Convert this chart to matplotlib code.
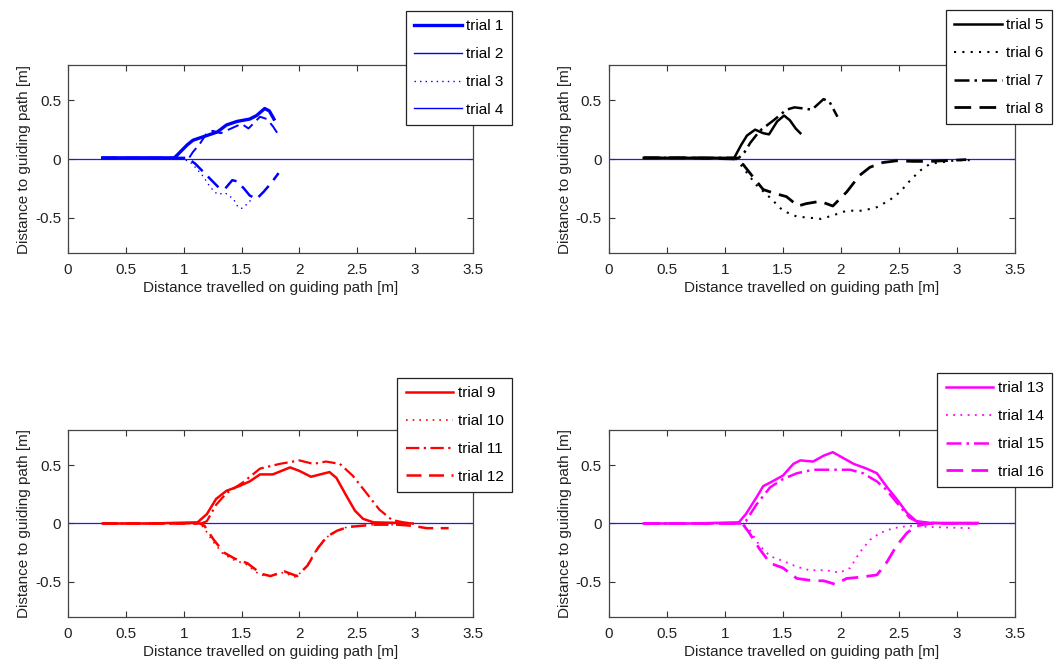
import numpy as np
import matplotlib
matplotlib.use("Agg")
import matplotlib.pyplot as plt

plt.rcParams['font.family'] = ['Liberation Sans', 'DejaVu Sans']
plt.rcParams['font.size'] = 11
plt.rcParams['axes.unicode_minus'] = False

# ---- data (x: travelled [m], y: lateral distance [m]) ----
# trials 1-4 (blue)
t1_x = [0.30, 0.60, 0.92, 0.97, 1.03, 1.08, 1.20, 1.29, 1.37, 1.46, 1.57, 1.63, 1.70, 1.74, 1.78]
t1_y = [0.01, 0.01, 0.01, 0.06, 0.12, 0.16, 0.20, 0.23, 0.29, 0.32, 0.34, 0.37, 0.43, 0.41, 0.34]
t2_x = [0.30, 0.70, 1.04, 1.08, 1.14, 1.20, 1.25, 1.32, 1.41, 1.50, 1.56, 1.60, 1.66, 1.72, 1.77, 1.81]
t2_y = [0.01, 0.01, 0.00, 0.06, 0.13, 0.22, 0.24, 0.22, 0.26, 0.30, 0.26, 0.30, 0.36, 0.34, 0.28, 0.22]
t3_x = [0.30, 0.70, 1.00, 1.06, 1.11, 1.17, 1.23, 1.29, 1.36, 1.43, 1.47, 1.50, 1.54, 1.60]
t3_y = [0.01, 0.01, 0.00, -0.03, -0.08, -0.15, -0.24, -0.30, -0.29, -0.34, -0.41, -0.42, -0.39, -0.33]
t4_x = [0.30, 0.70, 1.03, 1.10, 1.17, 1.24, 1.31, 1.36, 1.42, 1.46, 1.52, 1.57, 1.63, 1.69, 1.76, 1.82]
t4_y = [0.01, 0.01, 0.01, -0.04, -0.11, -0.18, -0.25, -0.25, -0.18, -0.19, -0.25, -0.31, -0.34, -0.28, -0.20, -0.12]

# trials 5-8 (black)
t5_x = [0.30, 0.70, 1.08, 1.14, 1.19, 1.26, 1.33, 1.38, 1.45, 1.51, 1.56, 1.61, 1.65]
t5_y = [0.01, 0.01, 0.01, 0.12, 0.20, 0.25, 0.22, 0.21, 0.32, 0.37, 0.33, 0.26, 0.22]
t6_x = [0.30, 0.70, 1.10, 1.16, 1.27, 1.39, 1.50, 1.62, 1.73, 1.83, 1.93, 2.05, 2.19, 2.31,
        2.42, 2.51, 2.59, 2.68, 2.77, 2.85, 3.00, 3.11]
t6_y = [0.01, 0.01, 0.00, -0.08, -0.22, -0.33, -0.44, -0.49, -0.50, -0.51, -0.48, -0.44, -0.44, -0.41,
        -0.35, -0.28, -0.19, -0.10, -0.04, -0.03, -0.01, -0.01]
t7_x = [0.30, 0.70, 1.12, 1.17, 1.22, 1.30, 1.42, 1.53, 1.60, 1.68, 1.75, 1.85, 1.90, 1.97]
t7_y = [0.01, 0.01, 0.01, 0.06, 0.14, 0.24, 0.33, 0.42, 0.44, 0.43, 0.42, 0.51, 0.49, 0.36]
t8_x = [0.30, 0.70, 1.10, 1.16, 1.24, 1.33, 1.42, 1.53, 1.63, 1.70, 1.82, 1.93, 2.05, 2.16,
        2.25, 2.36, 2.48, 2.62, 2.77, 2.88, 3.08]
t8_y = [0.01, 0.01, 0.00, -0.05, -0.15, -0.26, -0.29, -0.32, -0.40, -0.38, -0.36, -0.40, -0.28, -0.14,
        -0.07, -0.03, -0.015, -0.02, -0.02, -0.015, -0.005]

# trials 9-12 (red)
t9_x = [0.30, 0.70, 1.12, 1.20, 1.28, 1.37, 1.48, 1.57, 1.66, 1.77, 1.92, 2.00, 2.10, 2.18,
        2.26, 2.32, 2.41, 2.48, 2.55, 2.64, 2.87, 2.98]
t9_y = [0.00, 0.00, 0.01, 0.08, 0.21, 0.28, 0.32, 0.36, 0.42, 0.42, 0.48, 0.45, 0.40, 0.42,
        0.44, 0.39, 0.23, 0.11, 0.04, 0.01, 0.005, 0.00]
t10_x = [0.30, 0.70, 1.13, 1.17, 1.25, 1.34, 1.43, 1.54, 1.66, 1.74, 1.86, 1.97, 2.06, 2.15,
         2.23, 2.32, 2.41, 2.52, 2.64, 2.80, 2.95]
t10_y = [0.00, 0.00, 0.00, -0.03, -0.15, -0.26, -0.31, -0.35, -0.44, -0.45, -0.42, -0.46, -0.37, -0.22,
         -0.12, -0.07, -0.03, -0.02, -0.01, -0.01, -0.01]
t11_x = [0.30, 0.70, 1.15, 1.20, 1.28, 1.37, 1.51, 1.66, 1.83, 2.00, 2.12, 2.23, 2.35, 2.46,
         2.58, 2.69, 2.80, 2.90, 2.98]
t11_y = [0.00, 0.00, 0.00, 0.02, 0.16, 0.26, 0.35, 0.47, 0.51, 0.54, 0.51, 0.53, 0.51, 0.41,
         0.26, 0.12, 0.03, 0.01, 0.00]
t12_x = [0.30, 0.70, 1.14, 1.18, 1.26, 1.35, 1.44, 1.55, 1.67, 1.75, 1.87, 1.98, 2.07, 2.16,
         2.24, 2.33, 2.42, 2.53, 2.65, 2.85, 2.98, 3.10, 3.29]
t12_y = [0.00, 0.00, 0.00, -0.02, -0.14, -0.25, -0.30, -0.34, -0.43, -0.45, -0.41, -0.45, -0.36, -0.21,
         -0.11, -0.06, -0.03, -0.02, -0.01, -0.01, -0.02, -0.04, -0.04]

# trials 13-16 (magenta)
t13_x = [0.30, 0.70, 1.12, 1.18, 1.27, 1.33, 1.39, 1.50, 1.59, 1.65, 1.76, 1.85, 1.93, 2.02,
         2.11, 2.22, 2.31, 2.39, 2.48, 2.57, 2.65, 2.77, 3.18]
t13_y = [0.00, 0.00, 0.01, 0.08, 0.22, 0.32, 0.35, 0.41, 0.51, 0.54, 0.53, 0.58, 0.61, 0.56,
         0.51, 0.47, 0.43, 0.32, 0.21, 0.09, 0.02, 0.005, 0.005]
t14_x = [0.30, 0.70, 1.15, 1.21, 1.30, 1.39, 1.50, 1.62, 1.73, 1.87, 1.99, 2.08, 2.16, 2.25,
         2.34, 2.45, 2.59, 2.77, 3.11]
t14_y = [0.00, 0.00, 0.00, -0.05, -0.19, -0.28, -0.32, -0.37, -0.40, -0.40, -0.42, -0.38, -0.25, -0.14,
         -0.08, -0.04, -0.02, -0.03, -0.04]
t15_x = [0.30, 0.70, 1.14, 1.18, 1.27, 1.39, 1.50, 1.62, 1.76, 1.90, 2.08, 2.19, 2.31, 2.39,
         2.48, 2.59, 2.67, 2.90, 3.10]
t15_y = [0.00, 0.00, 0.00, 0.02, 0.16, 0.31, 0.38, 0.43, 0.46, 0.46, 0.46, 0.43, 0.36, 0.29,
         0.18, 0.05, 0.01, 0.00, 0.00]
t16_x = [0.30, 0.70, 1.15, 1.21, 1.30, 1.39, 1.50, 1.62, 1.76, 1.85, 1.95, 2.05, 2.16, 2.31,
         2.39, 2.48, 2.57, 2.65, 2.77, 3.18]
t16_y = [0.00, 0.00, 0.00, -0.08, -0.22, -0.34, -0.38, -0.47, -0.49, -0.49, -0.52, -0.47, -0.46, -0.44,
         -0.34, -0.19, -0.08, -0.02, 0.00, 0.00]

panels = [
    ("#0000ff", [("trial 1", t1_x, t1_y, "-", 2.4),
                 ("trial 2", t2_x, t2_y, (0, (6, 3)), 1.4),
                 ("trial 3", t3_x, t3_y, (0, (1, 3)), 1.0),
                 ("trial 4", t4_x, t4_y, (0, (6, 3)), 1.8)]),
    ("#000000", [("trial 5", t5_x, t5_y, "-", 1.8),
                 ("trial 6", t6_x, t6_y, (0, (1, 3)), 1.5),
                 ("trial 7", t7_x, t7_y, (0, (6, 2, 1, 2)), 1.8),
                 ("trial 8", t8_x, t8_y, (0, (6, 3)), 2.0)]),
    ("#ff0000", [("trial 9", t9_x, t9_y, "-", 1.8),
                 ("trial 10", t10_x, t10_y, (0, (1, 3)), 1.2),
                 ("trial 11", t11_x, t11_y, (0, (6, 2, 1, 2)), 1.6),
                 ("trial 12", t12_x, t12_y, (0, (6, 3)), 1.8)]),
    ("#ff00ff", [("trial 13", t13_x, t13_y, "-", 1.8),
                 ("trial 14", t14_x, t14_y, (0, (1, 3)), 1.3),
                 ("trial 15", t15_x, t15_y, (0, (6, 2, 1, 2)), 1.8),
                 ("trial 16", t16_x, t16_y, (0, (6, 3)), 2.0)]),
]

axes_rects = [[0.0642, 0.619, 0.3824, 0.283],
              [0.575, 0.619, 0.3834, 0.283],
              [0.0642, 0.0708, 0.3824, 0.2816],
              [0.575, 0.0708, 0.3834, 0.2816]]
legend_anchor = [(0.4835, 0.9834), (0.9934, 0.985), (0.4835, 0.4307), (0.9934, 0.4383)]

fig = plt.figure(figsize=(10.59, 6.64), dpi=100)

for k, (color, trials) in enumerate(panels):
    ax = fig.add_axes(axes_rects[k])
    ax.axhline(0, color="#1a1aff", lw=0.9, zorder=1)
    for label, xs, ys, ls, lw in trials:
        ax.plot(xs, ys, color=color, linestyle=ls, lw=lw, label=label, zorder=2)
    ax.set_xlim(0, 3.5)
    ax.set_ylim(-0.8, 0.8)
    ax.set_xticks(np.arange(0, 3.51, 0.5))
    ax.set_xticklabels(["0", "0.5", "1", "1.5", "2", "2.5", "3", "3.5"])
    ax.set_yticks([-0.5, 0, 0.5])
    ax.set_yticklabels(["-0.5", "0", "0.5"])
    ax.tick_params(direction="in", top=True, right=True, length=4, width=0.8,
                   colors="#333333", labelcolor="#222222", labelsize=11)
    ax.tick_params(axis="x", pad=7)
    ax.tick_params(axis="y", pad=5)
    for sp in ax.spines.values():
        sp.set_color("#444444")
        sp.set_linewidth(0.9)
    ax.set_xlabel("Distance travelled on guiding path [m]", fontsize=11, labelpad=3, color="#222222")
    ax.set_ylabel("Distance to guiding path [m]", fontsize=11, labelpad=3, color="#222222")
    leg = ax.legend(loc="upper right", bbox_to_anchor=legend_anchor[k],
                    bbox_transform=fig.transFigure, fancybox=False, framealpha=1,
                    edgecolor="#222222", handlelength=3.1, labelspacing=0.9,
                    handletextpad=0.3, borderpad=0.55, borderaxespad=0, fontsize=11)
    leg.get_frame().set_linewidth(0.9)
    if k == 0:
        # legend for panel 1 shows plain thin solid lines for trials 2 and 4
        leg.get_lines()[1].set_linestyle("-")
        leg.get_lines()[1].set_linewidth(1.0)
        leg.get_lines()[3].set_linestyle("-")
        leg.get_lines()[3].set_linewidth(1.0)

fig.savefig("out.png", dpi=100)
